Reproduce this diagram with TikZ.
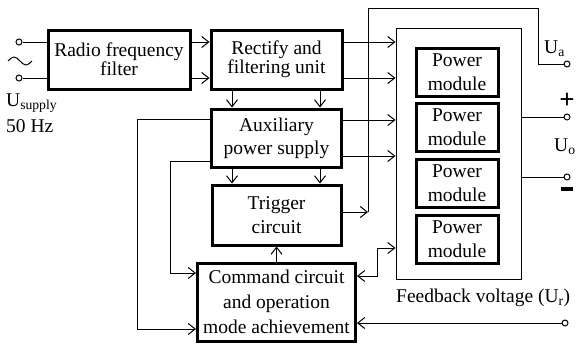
\documentclass[tikz,border=0pt]{standalone}
\usepackage{fontspec}
\setmainfont{Liberation Serif}
\usetikzlibrary{arrows.meta}
\tikzset{
	blk/.style={draw, line width=3pt, align=center, inner sep=0pt},
	pmod/.style={blk, minimum width=82pt, minimum height=48pt, font=\fontsize{19.5}{24}\selectfont},
	term/.style={circle, draw, fill=white, line width=1pt, inner sep=0pt, minimum size=6pt},
	wire/.style={line width=1pt},
	arr/.style={wire, -{Straight Barb[length=7pt,width=11pt]}},
	arrboth/.style={wire, {Straight Barb[length=7pt,width=11pt]}-{Straight Barb[length=7pt,width=11pt]}}
}

\begin{document}
\begin{tikzpicture}[x=1pt, y=-1pt, font=\fontsize{19.5}{21}\selectfont]
		%%%%% START %%%%%
		\useasboundingbox (0,0) rectangle (580,343);
		
		% blocks
		\node[blk, minimum width=142pt, minimum height=59pt, font=\fontsize{19.5}{19}\selectfont] (rf) at (119,59.5) {Radio frequency\\filter};
		\node[blk, minimum width=131pt, minimum height=59pt, font=\fontsize{19.5}{19}\selectfont] (rect) at (276.5,59.5) {Rectify and\\filtering unit};
		\node[blk, minimum width=130pt, minimum height=58pt, font=\fontsize{19.5}{23}\selectfont] (aux) at (276.5,138) {Auxiliary\\power supply};
		\node[blk, minimum width=129pt, minimum height=60pt, font=\fontsize{19.5}{24}\selectfont] (trig) at (276.5,215) {Trigger\\circuit};
		\node[blk, minimum width=158pt, minimum height=78pt, font=\fontsize{19.5}{25}\selectfont] (cmd) at (276.5,302) {Command circuit\\and operation\\mode achievement};
		
		\node[draw, line width=1pt, minimum width=125pt, minimum height=251pt] (pwr) at (458.5,153.5) {};
		\node[pmod] (pm1) at (457,72) {Power\\module};
		\node[pmod] (pm2) at (457,127.5) {Power\\module};
		\node[pmod] (pm3) at (457,183) {Power\\module};
		\node[pmod] (pm4) at (457,239) {Power\\module};
		
		% terminals
		\node[term] (in1) at (19,42) {};
		\node[term] (in2) at (19,78) {};
		\node[term] (ua) at (567,64) {};
		\node[term] (uop) at (567,117) {};
		\node[term] (uom) at (567,177) {};
		\node[term] (fb) at (565,323) {};
		
		% labels
		\draw[wire] (8,61) sin (14,57) cos (20,61) sin (26,65) cos (32,61);
		\node[anchor=west, inner sep=0pt] (usup) at (6,103) {U\textsubscript{supply}};
		\node[anchor=west, inner sep=0pt] (hz) at (6,126) {50 Hz};
		\node[anchor=west, inner sep=0pt] (lua) at (544,49) {U\textsubscript{a}};
		\node[anchor=west, inner sep=0pt] (luo) at (554,147) {U\textsubscript{o}};
		\node[inner sep=0pt, font=\fontsize{27}{27}\selectfont\bfseries] (plus) at (567,101) {+};
		\node[inner sep=0pt] (minus) at (567,189) {\rule{12pt}{3.5pt}};
		\node[anchor=west, inner sep=0pt] (lfb) at (396,298) {Feedback voltage (U\textsubscript{r})};
		
		\coordinate (xl) at (232,0);
		\coordinate (xr) at (320,0);
		\coordinate (ya1) at (0,120);
		\coordinate (ya2) at (0,156);
		
		% connections
		\draw[wire] (in1) -- (rf.west |- in1);
		\draw[wire] (in2) -- (rf.west |- in2);
		\draw[arr] (rf.east |- in1) -- (rect.west |- in1);
		\draw[arr] (rf.east |- in2) -- (rect.west |- in2);
		\draw[arr] (rect.east |- in1) -- (pwr.west |- in1);
		\draw[arr] (rect.east |- in2) -- (pwr.west |- in2);
		\draw[arr] (aux.east |- ya1) -- (pwr.west |- ya1);
		\draw[arr] (aux.east |- ya2) -- (pwr.west |- ya2);
		
		\draw[arr] (rect.south -| xl) -- (aux.north -| xl);
		\draw[arr] (rect.south -| xr) -- (aux.north -| xr);
		\draw[arr] (aux.south -| xl) -- (trig.north -| xl);
		\draw[arr] (aux.south -| xr) -- (trig.north -| xr);
		\draw[arr] (cmd.north) -- (trig.south);
		
		\draw[arr] (aux.west |- 0,119) -- (137,119) -- (137,329) -- (cmd.west |- 0,329);
		\draw[arr] (aux.west |- 0,161) -- (170,161) -- (170,273) -- (cmd.west |- 0,273);
		
		\draw[arr] (trig.east |- 0,212) -- (368,212);
		\draw[wire] (368,212) -- (368,8) -- (538,8) -- (538,64) -- (ua);
		
		\draw[arrboth] (cmd.east |- 0,276) -- (377,276) -- (377,248) -- (pwr.west |- 0,248);
		\draw[arr] (fb) -- (cmd.east |- fb);
		
		\draw[wire] (pwr.east |- uop) -- (uop);
		\draw[wire] (pwr.east |- uom) -- (uom);
		%%%%% END %%%%%
	\end{tikzpicture}
\end{document}
